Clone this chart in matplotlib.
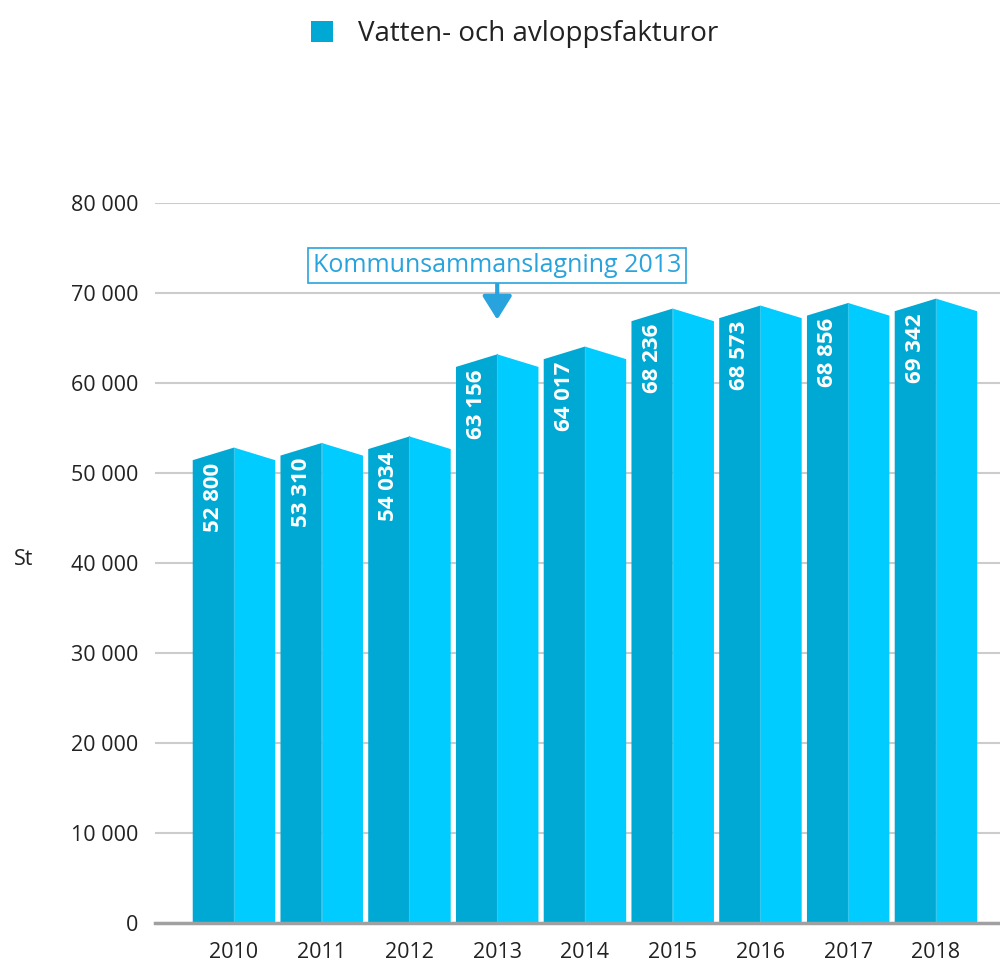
import matplotlib
matplotlib.use("Agg")
import matplotlib.pyplot as plt
from matplotlib.patches import Polygon, Patch
from matplotlib.ticker import FuncFormatter

plt.rcParams["font.family"] = ["Open Sans", "DejaVu Sans"]

years = ["2010", "2011", "2012", "2013", "2014", "2015", "2016", "2017", "2018"]
values = [52800, 53310, 54034, 63156, 64017, 68236, 68573, 68856, 69342]
series_name = "Vatten- och avloppsfakturor"
note_text = "Kommunsammanslagning 2013"
note_year = "2013"

c_left = "#00A9D4"
c_right = "#00CCFF"
c_note = "#29A3DD"
roof = 1400  # drop from peak to bar edges
half_w = 0.47

fig = plt.figure(figsize=(10, 9.65), dpi=100)
ax = fig.add_axes([0.155, 0.0435, 0.845, 0.7465])

for i, v in enumerate(values):
    left = Polygon([(i - half_w, 0), (i - half_w, v - roof), (i, v), (i, 0)],
                   closed=True, facecolor=c_left, edgecolor="none", zorder=3)
    right = Polygon([(i, 0), (i, v), (i + half_w, v - roof), (i + half_w, 0)],
                    closed=True, facecolor=c_right, edgecolor="none", zorder=3)
    ax.add_patch(left)
    ax.add_patch(right)
    ax.plot([i, i], [0, v], color="#33C8EE", lw=0.8, zorder=4)
    label = f"{v:,}".replace(",", " ")
    ax.text(i - half_w / 2, v - roof - 250, label, rotation=90, ha="center", va="top",
            color="white", fontsize=16, fontweight="bold", zorder=5)

ax.set_xlim(-0.9, 8.73)
ax.set_ylim(0, 80000)
ax.set_yticks(range(0, 80001, 10000))
ax.yaxis.set_major_formatter(FuncFormatter(lambda y, _: f"{int(y):,}".replace(",", " ")))
ax.set_xticks(range(len(years)))
ax.set_xticklabels(years)
ax.tick_params(axis="both", length=0, labelsize=15.5, colors="#222222")
ax.tick_params(axis="y", pad=12)
ax.tick_params(axis="x", pad=14)
ax.grid(axis="y", color="#CCCCCC", lw=1.5, zorder=0)
ax.set_axisbelow(True)
for s in ["top", "right", "left"]:
    ax.spines[s].set_visible(False)
ax.spines["bottom"].set_color("#A0A0A0")
ax.spines["bottom"].set_linewidth(2.5)
ax.spines["bottom"].set_zorder(6)

ax.set_ylabel("St", rotation=0, fontsize=15.5, color="#222222", labelpad=0)
ax.yaxis.set_label_coords(-0.155, 0.49)

xi = years.index(note_year)
ax.annotate(note_text, xy=(xi, 67000), xytext=(xi, 73000),
            ha="center", va="center", fontsize=18, color=c_note, zorder=7,
            bbox=dict(boxstyle="square,pad=0.2", fc="white", ec=c_note, lw=1.2),
            arrowprops=dict(arrowstyle="-|>,head_width=0.5,head_length=0.8",
                            color=c_note, lw=3, shrinkA=0, shrinkB=0))

fig.legend(handles=[Patch(facecolor=c_left, edgecolor="none")], labels=[series_name],
           loc="upper center", bbox_to_anchor=(0.515, 1.005), frameon=False, fontsize=20,
           handlelength=0.8, handleheight=0.8, handletextpad=0.9, labelcolor="#222222")

fig.savefig("out.png", dpi=100)
